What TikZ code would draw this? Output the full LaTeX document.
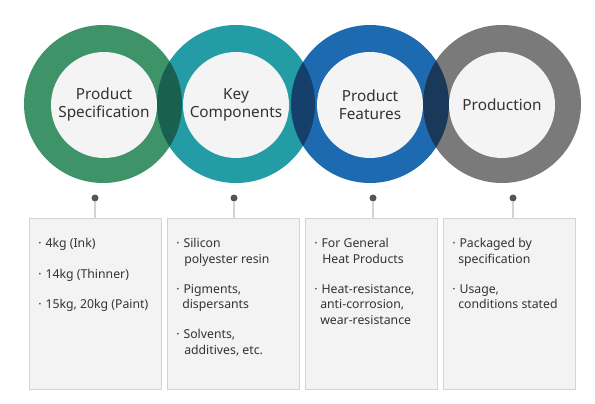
\documentclass[tikz,border=0pt]{standalone}
\usepackage{fontspec}
\setmainfont{Noto Sans}
\definecolor{cgreen}{RGB}{62,148,104}
\definecolor{cteal}{RGB}{36,156,166}
\definecolor{cblue}{RGB}{30,106,176}
\definecolor{cgray}{RGB}{122,122,122}
\definecolor{lensA}{RGB}{26,96,80}
\definecolor{lensB}{RGB}{22,64,108}
\definecolor{lensC}{RGB}{26,56,90}
\definecolor{innerfill}{RGB}{244,244,244}
\definecolor{boxfill}{RGB}{243,243,243}
\definecolor{boxline}{RGB}{212,212,212}
\definecolor{txt}{RGB}{51,51,51}
\definecolor{dotc}{RGB}{85,85,85}
\tikzset{
  inner/.style={circle,fill=innerfill,minimum size=79.5pt,inner sep=0pt,text=txt,
    font=\fontsize{11.5pt}{13.5pt}\selectfont,align=center},
  infobox/.style={draw=boxline,fill=boxfill,line width=0.75pt,minimum width=99pt,minimum height=128.25pt,anchor=north west,inner sep=0pt},
  dotn/.style={circle,fill=dotc,minimum size=5.25pt,inner sep=0pt},
  stem/.style={draw=boxline,line width=1.2pt},
  itm/.style={anchor=mid west,inner sep=0pt,text=txt,font=\fontsize{9.2pt}{11pt}\selectfont},
}
\begin{document}
\begin{tikzpicture}[x=0.75pt,y=-0.75pt]
\useasboundingbox (0,0) rectangle (595,403);
\fill[white] (0,0) rectangle (595,403);
% rings
\fill[cgreen] (103,104) circle[radius=79];
\fill[cteal] (236,104) circle[radius=79];
\fill[cblue] (370,104) circle[radius=79];
\fill[cgray] (502,104) circle[radius=79];
% lenses
\begin{scope}\clip (103,104) circle[radius=79]; \fill[lensA] (236,104) circle[radius=79];\end{scope}
\begin{scope}\clip (236,104) circle[radius=79]; \fill[lensB] (370,104) circle[radius=79];\end{scope}
\begin{scope}\clip (370,104) circle[radius=79]; \fill[lensC] (502,104) circle[radius=79];\end{scope}
% inner circles with titles
\node[inner] (c1) at (104,105) {Product\\Specification};
\node[inner] (c2) at (236,105) {Key\\Components};
\node[inner] (c3) at (370,105) {Product\\Features};
\node[inner] (c4) at (502,105) {Production};
% boxes
\node[infobox] (b1) at (29,218) {};
\node[infobox] (b2) at (167,218) {};
\node[infobox] (b3) at (305,218) {};
\node[infobox] (b4) at (443,218) {};
% dots and stems
\node[dotn] (d1) at (95,198) {};
\node[dotn] (d2) at (234,198) {};
\node[dotn] (d3) at (373,198) {};
\node[dotn] (d4) at (513,198) {};
\draw[stem] (d1) -- (d1 |- b1.north);
\draw[stem] (d2) -- (d2 |- b2.north);
\draw[stem] (d3) -- (d3 |- b3.north);
\draw[stem] (d4) -- (d4 |- b4.north);
% box 1
\node[itm] (t11) at (38,244) {·\hspace{3pt}4kg (Ink)};
\node[itm] (t12) at (38,275) {·\hspace{3pt}14kg (Thinner)};
\node[itm] (t13) at (38,305) {·\hspace{3pt}15kg, 20kg (Paint)};
% box 2
\node[itm] (t21) at (176,244) {·\hspace{3pt}Silicon};
\node[itm] (t22) at (184,260) {polyester resin};
\node[itm] (t23) at (176,290) {·\hspace{3pt}Pigments,};
\node[itm] (t24) at (182,305) {dispersants};
\node[itm] (t25) at (176,335) {·\hspace{3pt}Solvents,};
\node[itm] (t26) at (184,351) {additives, etc.};
% box 3
\node[itm] (t31) at (314,244) {·\hspace{3pt}For General};
\node[itm] (t32) at (322,260) {Heat Products};
\node[itm] (t33) at (314,290) {·\hspace{3pt}Heat-resistance,};
\node[itm] (t34) at (320,305) {anti-corrosion,};
\node[itm] (t35) at (320,321) {wear-resistance};
% box 4
\node[itm] (t41) at (452,244) {·\hspace{3pt}Packaged by};
\node[itm] (t42) at (458,260) {specification};
\node[itm] (t43) at (452,290) {·\hspace{3pt}Usage,};
\node[itm] (t44) at (458,305) {conditions stated};
\end{tikzpicture}
\end{document}
